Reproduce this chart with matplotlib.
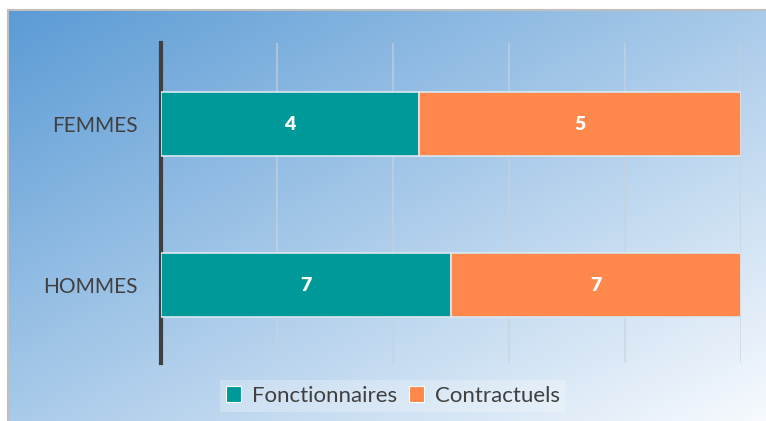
import numpy as np
import matplotlib
matplotlib.use("Agg")
import matplotlib.pyplot as plt
from matplotlib.patches import Rectangle
from matplotlib.lines import Line2D

categories = ["HOMMES", "FEMMES"]
fonctionnaires = [7, 4]
contractuels = [7, 5]
series_names = ["Fonctionnaires", "Contractuels"]
colors = ["#009999", "#FF884D"]

plt.rcParams['font.family'] = ['Lato', 'DejaVu Sans']

W, H = 766, 421
fig = plt.figure(figsize=(W/100, H/100), dpi=100)

# background gradient
bg = fig.add_axes([8/W, 0, 1 - 8/W, 1 - 10/H])
bg.set_axis_off()
nx, ny = 300, 200
u = np.linspace(0, 1, nx)[None, :]
v = np.linspace(0, 1, ny)[:, None]
t = 0.5 * (u + v)
c0 = np.array([91, 155, 213]) / 255
c1 = np.array([247, 250, 254]) / 255
img = c0[None, None, :] * (1 - t[..., None]) + c1[None, None, :] * t[..., None]
bg.imshow(img, aspect='auto', extent=[0, 1, 0, 1], origin='upper')
bg.set_xlim(0, 1); bg.set_ylim(0, 1)

# border lines
fig.add_artist(Line2D([7.5/W, 1], [1 - 9.5/H, 1 - 9.5/H], color="#bfbfbf", lw=1.5, transform=fig.transFigure))
fig.add_artist(Line2D([7.5/W, 7.5/W], [0, 1 - 9.5/H], color="#bfbfbf", lw=1.5, transform=fig.transFigure))

ax = fig.add_axes([161/W, 1 - 363/H, 580/W, 320/H])
ax.patch.set_alpha(0)

tot = np.array(fonctionnaires) + np.array(contractuels)
p1 = np.array(fonctionnaires) / tot * 100
p2 = np.array(contractuels) / tot * 100
y = np.arange(len(categories))
h = 0.40
ax.barh(y, p1, height=h, color=colors[0], edgecolor="#dce8f2", linewidth=1.2, label=series_names[0], zorder=3)
ax.barh(y, p2, left=p1, height=h, color=colors[1], edgecolor="#dce8f2", linewidth=1.2, label=series_names[1], zorder=3)

for i in range(len(categories)):
    ax.text(p1[i] / 2, y[i], str(fonctionnaires[i]), ha='center', va='center',
            color='white', fontsize=14, fontweight='heavy', zorder=4)
    ax.text(p1[i] + p2[i] / 2, y[i], str(contractuels[i]), ha='center', va='center',
            color='white', fontsize=14, fontweight='heavy', zorder=4)

ax.set_xlim(0, 100)
ax.set_ylim(-0.484, 1.503)
ax.set_xticks(np.arange(0, 101, 20))
ax.set_xticklabels([])
ax.tick_params(axis='x', length=0)
ax.grid(axis='x', color="#c8d2dc", alpha=0.6, lw=1.5, zorder=0)
ax.set_yticks(y)
ax.set_yticklabels(categories, fontsize=15, color="#404040")
ax.tick_params(axis='y', length=0, pad=17)
for s in ['top', 'right', 'bottom']:
    ax.spines[s].set_visible(False)
ax.spines['left'].set_color("#404040")
ax.spines['left'].set_linewidth(3)

handles = [Rectangle((0, 0), 1, 1, facecolor=colors[0], edgecolor='white', lw=0.8),
           Rectangle((0, 0), 1, 1, facecolor=colors[1], edgecolor='white', lw=0.8)]
leg = fig.legend(handles, series_names, loc='center', bbox_to_anchor=(393/W, 1 - 396/H),
                 ncol=2, frameon=True, fontsize=16, handlelength=0.7, handleheight=0.7,
                 handletextpad=0.5, columnspacing=0.5, borderpad=0.25, fancybox=False,
                 framealpha=0.25, facecolor='white', edgecolor='none')
for t_ in leg.get_texts():
    t_.set_color("#404040")

fig.savefig("out.png", dpi=100)
